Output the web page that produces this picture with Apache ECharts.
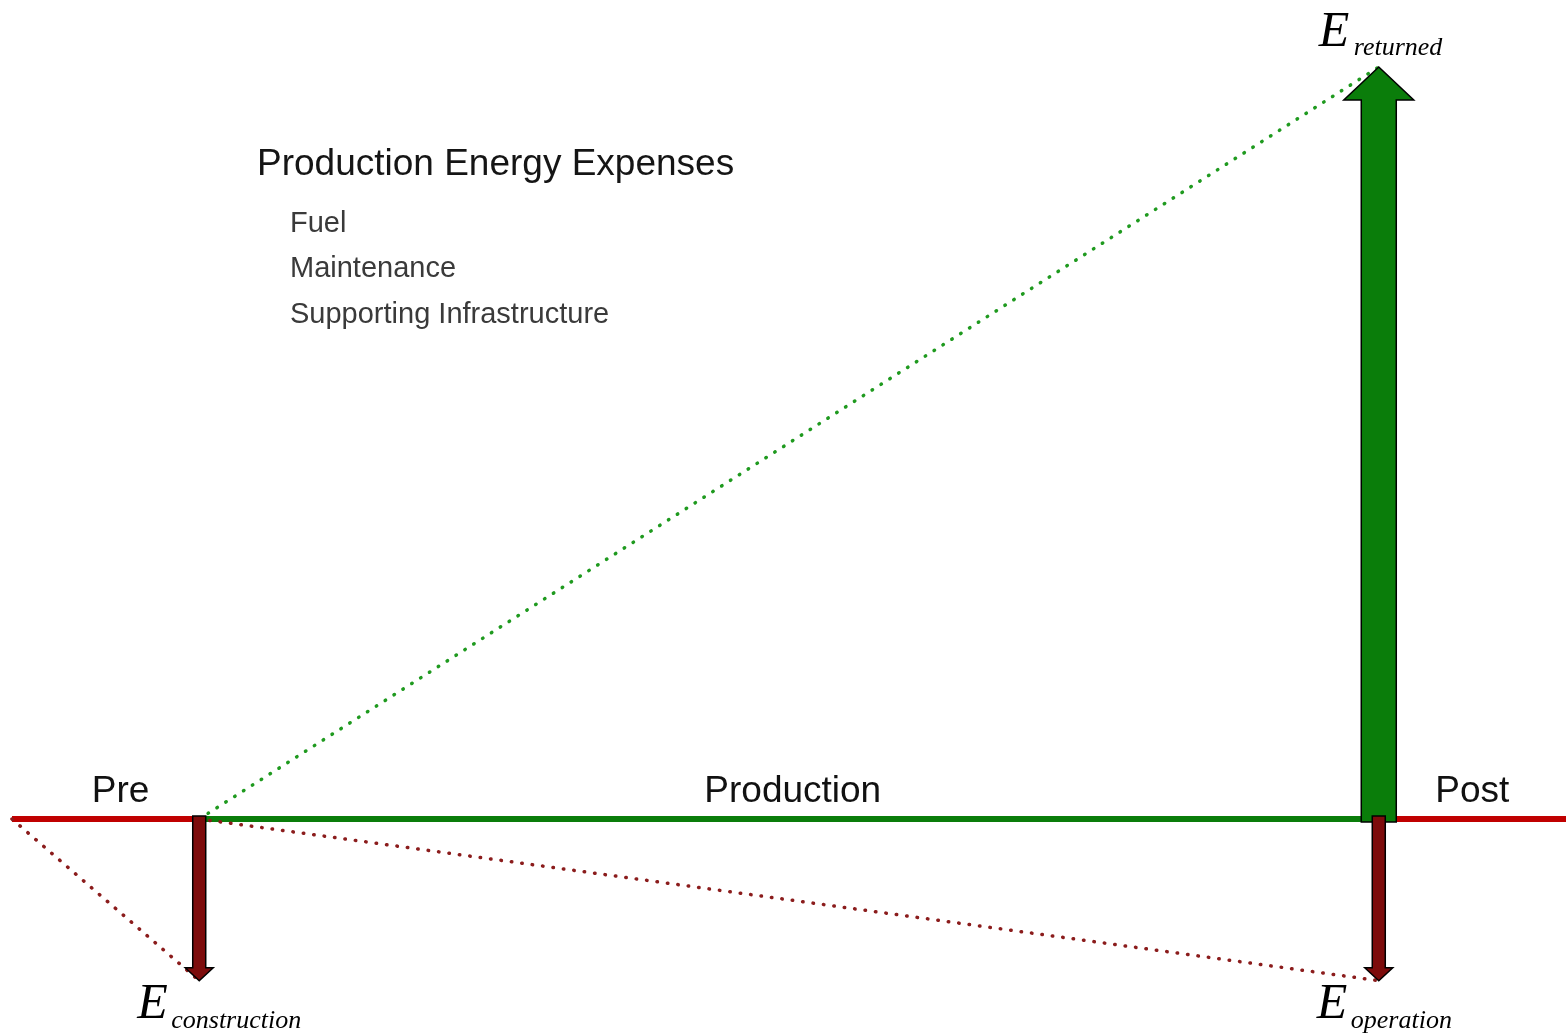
<!DOCTYPE html>
<html>
<head>
<meta charset="utf-8">
<script src="https://cdn.jsdelivr.net/npm/echarts@6/dist/echarts.min.js"></script>
<style>
html,body{margin:0;padding:0;background:#fff;}
#chart{width:1566px;height:1035px;}
</style>
</head>
<body>
<div id="chart"></div>
<script>
// ---- data ----
const phases = ['Pre', 'Production', 'Post'];
const phaseBounds = [0, 10, 73, 83];            // time axis (relative units)
const phaseColors = ['#c00000', '#0a7d0a', '#c00000'];
const phaseLabelX = [5.8, 41.7, 78];
const energyNames = ['returned', 'construction', 'operation'];
const energyX = [73, 10, 73];
const energyValues = [100, -21.5, -21.5];
const energyColors = ['#0a7d0a', '#7d0c0c', '#7d0c0c'];
const expenseTitle = 'Production Energy Expenses';
const expenseItems = ['Fuel', 'Maintenance', 'Supporting Infrastructure'];

const chart = echarts.init(document.getElementById('chart'), null, {renderer: 'canvas'});

const phaseData = phases.map((p, i) => [phaseBounds[i], phaseBounds[i + 1], phaseLabelX[i], i]);
const arrowData = energyNames.map((n, i) => [energyX[i], energyValues[i], i]);

const greenDots = [[phaseBounds[1], 0], [energyX[0], energyValues[0]]];
const redDots1 = [[phaseBounds[0], 0], [energyX[1], energyValues[1]]];
const redDots2 = [[phaseBounds[1], 0], [energyX[2], energyValues[2]]];

const dotted = (data, color) => ({
  type: 'line', data: data, symbol: 'none', silent: true, z: 3,
  lineStyle: {color: color, width: 3.5, type: [0.5, 10], cap: 'round'}
});

chart.setOption({
  animation: false,
  backgroundColor: '#ffffff',
  title: [
    {text: expenseTitle, left: 252, top: 141, padding: 5,
     textStyle: {fontFamily: 'Liberation Sans', fontSize: 37, fontWeight: 'normal', color: '#151515'}},
    {text: expenseItems.join('\n'), left: 285, top: 196, padding: 5,
     textStyle: {fontFamily: 'Liberation Sans', fontSize: 29, fontWeight: 'normal', color: '#3a3a3a', lineHeight: 45.5}}
  ],
  grid: {left: 12, right: 0, top: 67, bottom: 28},
  xAxis: {type: 'value', min: phaseBounds[0], max: phaseBounds[3], show: false},
  yAxis: {type: 'value', min: -25, max: 100, show: false},
  series: [
    {
      type: 'custom', z: 2, silent: true, data: phaseData,
      encode: {x: [0, 1]},
      renderItem: function (params, api) {
        const i = api.value(3);
        const a = api.coord([api.value(0), 0]);
        const b = api.coord([api.value(1), 0]);
        const c = api.coord([api.value(2), 0]);
        return {
          type: 'group',
          children: [
            {type: 'line', shape: {x1: a[0], y1: a[1], x2: b[0], y2: b[1]},
             style: {stroke: phaseColors[i], lineWidth: 6}},
            {type: 'text', style: {text: phases[i], x: c[0], y: c[1] - 27, align: 'center', verticalAlign: 'middle',
             font: 'normal 37px "Liberation Sans"', fill: '#111'}}
          ]
        };
      }
    },
    dotted(greenDots, '#1f9a1f'),
    dotted(redDots1, '#8b1c1c'),
    dotted(redDots2, '#8b1c1c'),
    {
      type: 'custom', z: 5, silent: true, data: arrowData,
      encode: {x: 0, y: 1},
      renderItem: function (params, api) {
        const i = api.value(2);
        const x = api.value(0), v = api.value(1);
        const base = api.coord([x, 0]);
        const tip = api.coord([x, v]);
        const up = v > 0;
        const dir = up ? -1 : 1;
        const sh = up ? 17.5 : 6.5, hh = up ? 35 : 14, hl = up ? 33 : 13;
        const px = tip[0];
        const startY = base[1] - dir * 3;
        const hb = tip[1] - dir * hl;
        const pts = [[px - sh, startY], [px - sh, hb], [px - hh, hb], [px, tip[1]], [px + hh, hb], [px + sh, hb], [px + sh, startY]];
        const eX = up ? px - 60 : px - 62;
        const eY = up ? tip[1] - 34 : tip[1] + 24;
        const sX = up ? px - 25 : px - 28;
        const sY = up ? tip[1] - 19 : tip[1] + 40;
        return {
          type: 'group',
          children: [
            {type: 'polygon', shape: {points: pts}, style: {fill: energyColors[i], stroke: '#000', lineWidth: 1.5}},
            {type: 'text', style: {text: 'E', x: eX, y: eY, align: 'left', verticalAlign: 'middle',
             font: 'italic 50px "Liberation Serif"', fill: '#000'}},
            {type: 'text', style: {text: energyNames[i], x: sX, y: sY, align: 'left', verticalAlign: 'middle',
             font: 'italic 26px "Liberation Serif"', fill: '#000'}}
          ]
        };
      }
    }
  ]
});
</script>
</body>
</html>
